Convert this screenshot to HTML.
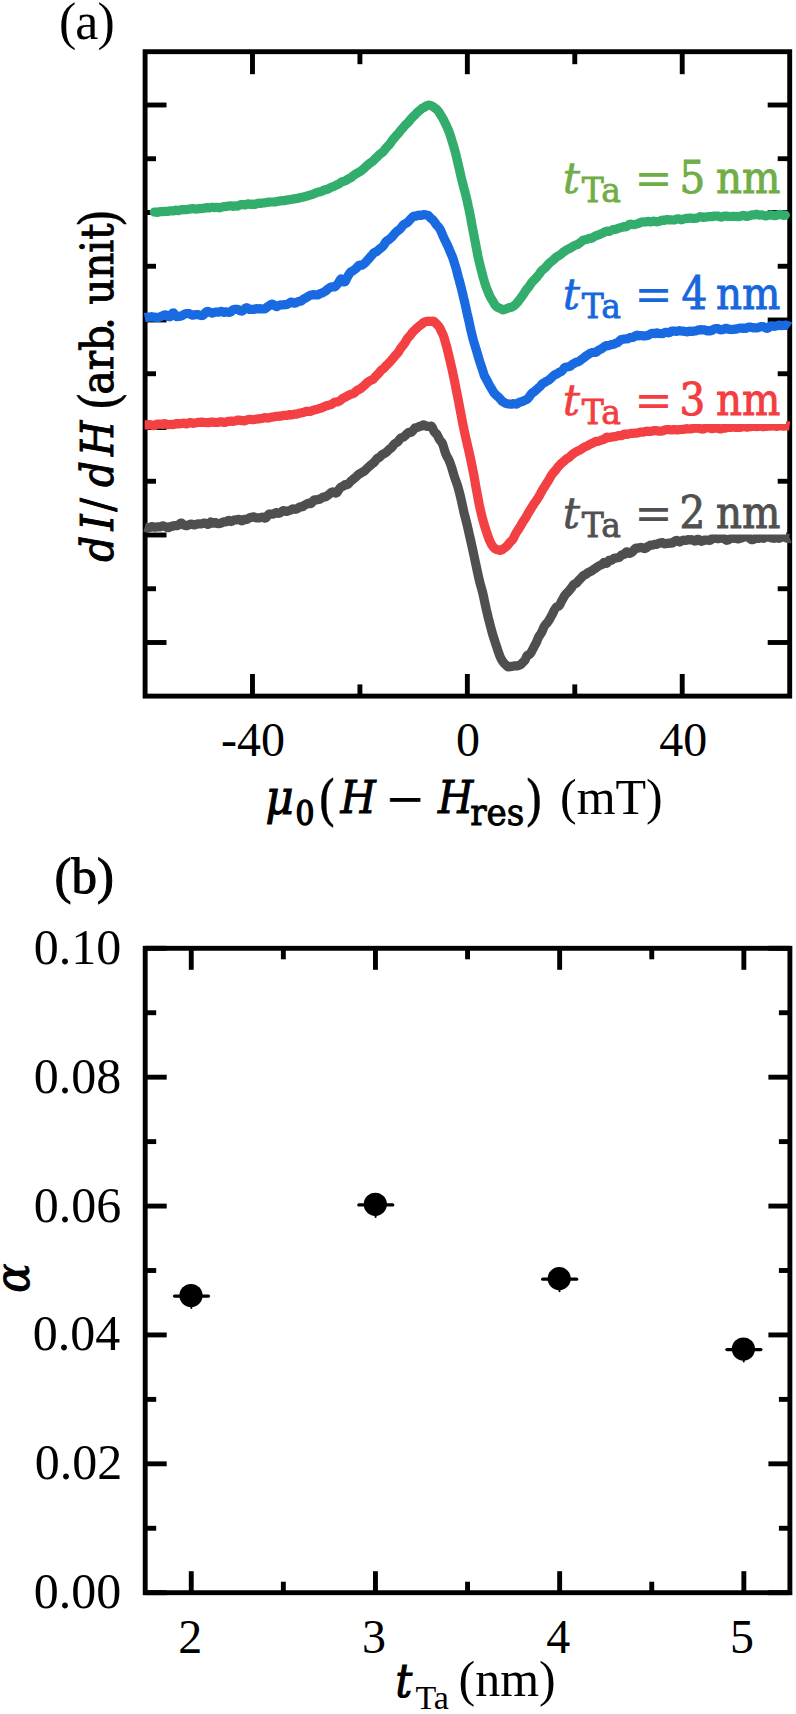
<!DOCTYPE html>
<html><head><meta charset="utf-8"><title>FMR spectra and damping</title>
<style>html,body{margin:0;padding:0;background:#fff;}svg{display:block;}</style></head>
<body><svg width="796" height="1714" viewBox="0 0 796 1714">
<rect width="796" height="1714" fill="#fff"/>
<rect x="145.1" y="51.7" width="644.60" height="644.40" fill="none" stroke="#000" stroke-width="4.9"/><line x1="145.10" y1="105.00" x2="166.50" y2="105.00" stroke="#000" stroke-width="4.9"/><line x1="789.70" y1="105.00" x2="767.70" y2="105.00" stroke="#000" stroke-width="4.9"/><line x1="145.10" y1="212.50" x2="166.50" y2="212.50" stroke="#000" stroke-width="4.9"/><line x1="789.70" y1="212.50" x2="767.70" y2="212.50" stroke="#000" stroke-width="4.9"/><line x1="145.10" y1="320.00" x2="166.50" y2="320.00" stroke="#000" stroke-width="4.9"/><line x1="789.70" y1="320.00" x2="767.70" y2="320.00" stroke="#000" stroke-width="4.9"/><line x1="145.10" y1="427.50" x2="166.50" y2="427.50" stroke="#000" stroke-width="4.9"/><line x1="789.70" y1="427.50" x2="767.70" y2="427.50" stroke="#000" stroke-width="4.9"/><line x1="145.10" y1="535.00" x2="166.50" y2="535.00" stroke="#000" stroke-width="4.9"/><line x1="789.70" y1="535.00" x2="767.70" y2="535.00" stroke="#000" stroke-width="4.9"/><line x1="145.10" y1="642.50" x2="166.50" y2="642.50" stroke="#000" stroke-width="4.9"/><line x1="789.70" y1="642.50" x2="767.70" y2="642.50" stroke="#000" stroke-width="4.9"/><line x1="145.10" y1="158.75" x2="156.00" y2="158.75" stroke="#000" stroke-width="4.9"/><line x1="789.70" y1="158.75" x2="777.70" y2="158.75" stroke="#000" stroke-width="4.9"/><line x1="145.10" y1="266.25" x2="156.00" y2="266.25" stroke="#000" stroke-width="4.9"/><line x1="789.70" y1="266.25" x2="777.70" y2="266.25" stroke="#000" stroke-width="4.9"/><line x1="145.10" y1="373.75" x2="156.00" y2="373.75" stroke="#000" stroke-width="4.9"/><line x1="789.70" y1="373.75" x2="777.70" y2="373.75" stroke="#000" stroke-width="4.9"/><line x1="145.10" y1="481.25" x2="156.00" y2="481.25" stroke="#000" stroke-width="4.9"/><line x1="789.70" y1="481.25" x2="777.70" y2="481.25" stroke="#000" stroke-width="4.9"/><line x1="145.10" y1="588.75" x2="156.00" y2="588.75" stroke="#000" stroke-width="4.9"/><line x1="789.70" y1="588.75" x2="777.70" y2="588.75" stroke="#000" stroke-width="4.9"/><line x1="252.48" y1="696.10" x2="252.48" y2="674.00" stroke="#000" stroke-width="4.9"/><line x1="252.48" y1="51.70" x2="252.48" y2="74.20" stroke="#000" stroke-width="4.9"/><line x1="467.35" y1="696.10" x2="467.35" y2="674.00" stroke="#000" stroke-width="4.9"/><line x1="467.35" y1="51.70" x2="467.35" y2="74.20" stroke="#000" stroke-width="4.9"/><line x1="682.22" y1="696.10" x2="682.22" y2="674.00" stroke="#000" stroke-width="4.9"/><line x1="682.22" y1="51.70" x2="682.22" y2="74.20" stroke="#000" stroke-width="4.9"/><line x1="359.92" y1="696.10" x2="359.92" y2="684.40" stroke="#000" stroke-width="4.9"/><line x1="359.92" y1="51.70" x2="359.92" y2="64.20" stroke="#000" stroke-width="4.9"/><line x1="574.78" y1="696.10" x2="574.78" y2="684.40" stroke="#000" stroke-width="4.9"/><line x1="574.78" y1="51.70" x2="574.78" y2="64.20" stroke="#000" stroke-width="4.9"/>
<polyline points="154.3,212.0 155.3,212.1 156.3,212.2 157.3,212.3 158.3,212.2 159.3,211.9 160.3,211.5 161.3,211.5 162.3,211.6 163.3,211.6 164.3,211.4 165.3,211.3 166.3,211.4 167.3,211.4 168.3,211.3 169.3,211.1 170.3,210.9 171.3,210.8 172.3,210.8 173.3,210.9 174.3,210.7 175.3,210.2 176.3,210.0 177.3,210.5 178.3,210.7 179.3,210.3 180.3,209.9 181.3,209.8 182.3,209.7 183.3,209.6 184.3,209.7 185.3,209.7 186.3,209.7 187.3,209.5 188.3,209.3 189.3,209.1 190.2,208.9 191.2,208.8 192.2,208.7 193.2,208.7 194.2,208.8 195.2,209.0 196.2,209.1 197.2,208.9 198.2,208.8 199.2,208.6 200.2,208.6 201.2,208.5 202.2,208.4 203.2,208.3 204.2,208.2 205.2,207.9 206.2,207.7 207.2,207.7 208.2,207.9 209.2,208.0 210.2,207.7 211.2,207.4 212.2,207.2 213.2,207.4 214.2,207.6 215.2,207.5 216.2,207.3 217.2,207.4 218.2,207.6 219.2,207.8 220.2,207.7 221.2,207.3 222.2,206.9 223.2,206.7 224.2,206.7 225.2,206.6 226.2,206.5 227.2,206.3 228.2,206.1 229.2,206.0 230.2,205.9 231.2,205.9 232.2,206.2 233.2,206.3 234.2,206.2 235.2,205.9 236.2,206.0 237.2,206.1 238.2,205.8 239.2,205.2 240.2,204.8 241.2,204.7 242.2,204.6 243.2,204.7 244.2,204.9 245.2,204.9 246.2,204.6 247.2,204.0 248.2,203.9 249.2,204.0 250.2,204.3 251.2,204.3 252.2,204.2 253.2,204.3 254.2,204.5 255.2,204.4 256.2,203.9 257.2,203.5 258.2,203.3 259.2,203.2 260.2,203.3 261.2,203.3 262.2,203.1 263.2,203.0 264.2,202.9 265.2,202.7 266.2,202.5 267.2,202.4 268.2,202.2 269.2,202.1 270.2,202.0 271.2,202.0 272.2,202.0 273.2,202.0 274.2,202.0 275.2,201.9 276.2,201.7 277.2,201.4 278.2,201.2 279.2,201.0 280.2,200.9 281.2,200.8 282.2,200.7 283.2,200.6 284.2,200.7 285.2,200.5 286.2,200.1 287.2,199.9 288.2,199.9 289.2,199.8 290.2,199.6 291.2,199.4 292.2,199.2 293.2,198.9 294.2,198.9 295.2,198.8 296.2,198.5 297.2,198.4 298.2,198.3 299.2,197.9 300.2,197.5 301.2,197.4 302.2,197.3 303.2,197.1 304.2,196.8 305.2,196.5 306.2,196.2 307.2,196.0 308.2,195.7 309.2,195.3 310.2,195.0 311.1,194.8 312.1,194.6 313.1,194.2 314.1,193.7 315.1,193.3 316.1,192.8 317.1,192.4 318.1,192.2 319.0,191.9 320.0,191.8 321.0,191.6 322.0,191.2 323.0,190.7 324.0,190.2 324.9,189.8 325.9,189.6 326.9,189.5 327.9,189.1 328.9,188.5 329.8,188.1 330.8,187.5 331.8,187.0 332.8,186.8 333.7,186.5 334.7,186.0 335.7,185.4 336.7,184.9 337.6,184.4 338.6,184.0 339.6,183.4 340.6,182.7 341.6,182.0 342.5,181.6 343.5,181.4 344.5,181.1 345.5,180.7 346.5,180.2 347.4,179.5 348.4,178.8 349.4,178.3 350.4,177.9 351.4,177.4 352.3,176.5 353.3,175.6 354.3,174.9 355.3,174.2 356.3,173.6 357.3,173.1 358.3,172.6 359.2,172.1 360.2,171.4 361.2,170.7 362.2,170.0 363.2,169.2 364.2,168.3 365.2,167.3 366.2,166.3 367.3,165.4 368.3,164.6 369.3,163.7 370.3,162.9 371.3,162.2 372.3,161.6 373.4,160.6 374.4,159.5 375.4,158.5 376.5,157.5 377.5,156.6 378.5,155.5 379.5,154.5 380.6,153.7 381.6,152.9 382.6,152.2 383.6,151.2 384.6,149.9 385.6,148.6 386.7,147.3 387.7,146.3 388.7,145.3 389.7,144.2 390.7,142.8 391.7,141.2 392.7,139.8 393.7,138.7 394.7,137.5 395.8,136.2 396.8,135.0 397.8,134.0 398.9,132.8 399.9,131.4 401.0,130.0 402.1,128.8 403.2,127.7 404.2,126.3 405.3,125.1 406.4,124.0 407.5,123.1 408.6,121.9 409.6,120.6 410.7,119.3 411.8,118.0 412.8,116.9 413.9,115.9 414.9,114.9 415.9,113.9 417.0,112.7 418.0,111.7 419.0,111.0 420.0,110.2 421.0,109.3 421.9,108.4 422.9,107.9 423.8,107.6 424.8,107.0 425.7,106.2 426.6,105.7 427.5,105.5 428.3,105.1 429.2,105.1 430.1,105.4 430.9,105.7 431.8,106.0 432.7,106.4 433.6,107.0 434.5,107.8 435.5,108.5 436.4,109.2 437.4,110.1 438.5,111.4 439.5,113.0 440.6,114.8 441.7,116.6 442.8,118.4 444.0,120.7 445.1,123.0 446.3,125.4 447.4,127.9 448.6,130.6 449.7,133.6 450.8,137.0 451.9,140.6 453.0,144.2 454.1,147.9 455.1,151.6 456.2,155.7 457.2,160.2 458.3,164.6 459.3,169.0 460.3,173.6 461.4,178.3 462.6,183.0 463.7,187.4 464.9,191.7 466.0,196.2 467.2,201.1 468.2,206.0 469.3,210.8 470.3,215.8 471.2,220.9 472.1,225.8 473.0,230.4 473.9,235.0 474.7,239.5 475.6,243.8 476.4,248.1 477.2,252.4 478.0,256.5 478.9,260.5 479.8,264.3 480.7,267.9 481.6,271.4 482.5,274.8 483.4,278.2 484.3,281.3 485.2,284.1 486.1,286.8 487.0,289.2 487.9,291.3 488.7,293.5 489.6,295.5 490.5,297.3 491.4,298.8 492.3,300.3 493.3,301.9 494.2,303.6 495.2,305.2 496.3,306.4 497.4,307.2 498.5,307.7 499.6,308.1 500.7,308.7 501.9,309.4 503.1,309.8 504.2,309.6 505.4,309.1 506.5,308.7 507.6,308.2 508.8,307.8 509.8,307.6 510.9,307.4 512.0,307.0 513.0,306.4 514.0,305.8 515.0,305.0 516.0,304.0 516.9,303.0 517.9,301.9 518.8,300.6 519.7,299.4 520.6,298.3 521.4,297.1 522.3,295.9 523.1,294.8 524.0,293.5 524.8,292.1 525.6,290.8 526.5,289.6 527.3,288.6 528.2,287.6 529.1,286.4 529.9,285.2 530.8,283.9 531.7,282.5 532.7,281.4 533.6,280.5 534.5,279.6 535.5,278.6 536.5,277.6 537.4,276.3 538.4,275.1 539.4,273.9 540.4,272.4 541.4,271.0 542.4,269.9 543.4,269.2 544.4,268.5 545.5,267.4 546.5,266.3 547.5,265.2 548.5,264.0 549.6,262.9 550.6,262.1 551.6,261.3 552.7,260.5 553.7,259.7 554.7,258.5 555.8,257.5 556.8,256.8 557.8,256.2 558.9,255.6 559.9,254.9 561.0,254.2 562.0,253.2 563.1,252.3 564.1,251.6 565.2,251.0 566.2,250.2 567.3,249.4 568.3,249.0 569.4,248.6 570.4,248.1 571.5,247.3 572.5,246.7 573.5,246.1 574.6,245.5 575.6,245.0 576.7,244.8 577.7,244.4 578.7,243.6 579.8,242.9 580.8,242.1 581.9,241.2 582.9,240.3 583.9,239.9 584.9,239.7 586.0,239.6 587.0,239.3 588.0,238.9 589.0,238.4 590.1,238.4 591.1,238.3 592.1,238.0 593.1,237.4 594.1,236.7 595.1,236.1 596.1,235.6 597.1,235.3 598.2,235.0 599.2,234.7 600.2,234.1 601.2,233.6 602.2,233.3 603.2,232.9 604.2,232.3 605.2,231.7 606.2,231.3 607.2,231.2 608.2,231.4 609.2,231.4 610.2,231.0 611.2,230.5 612.2,230.0 613.2,229.6 614.2,229.4 615.2,229.3 616.2,229.2 617.2,228.8 618.2,228.3 619.2,227.9 620.2,227.8 621.2,227.6 622.2,227.1 623.2,226.7 624.2,226.7 625.2,226.9 626.2,226.7 627.2,226.2 628.2,225.4 629.2,224.6 630.2,224.2 631.2,224.3 632.2,224.5 633.2,224.6 634.2,224.6 635.2,224.4 636.2,224.1 637.2,223.8 638.2,223.6 639.2,223.2 640.2,222.7 641.2,222.2 642.2,222.1 643.2,222.0 644.2,221.8 645.2,221.8 646.2,221.8 647.2,221.5 648.2,221.4 649.2,221.5 650.2,221.8 651.2,221.9 652.3,221.6 653.3,221.2 654.3,221.2 655.3,221.6 656.3,221.8 657.3,221.7 658.3,221.5 659.3,221.3 660.3,220.9 661.3,220.4 662.3,220.1 663.3,220.3 664.3,220.4 665.3,220.1 666.3,219.7 667.3,219.6 668.3,219.8 669.3,219.9 670.3,219.9 671.3,219.9 672.3,220.0 673.3,220.0 674.3,220.0 675.3,219.7 676.3,219.2 677.3,218.8 678.3,218.8 679.3,219.0 680.3,219.4 681.3,219.8 682.3,219.6 683.3,219.2 684.3,218.9 685.3,218.6 686.3,218.4 687.3,218.3 688.3,218.3 689.3,218.2 690.3,218.1 691.3,218.2 692.3,218.4 693.3,218.4 694.3,218.4 695.3,218.3 696.3,218.2 697.3,218.0 698.3,217.5 699.3,217.0 700.3,216.7 701.3,216.8 702.3,217.2 703.3,217.5 704.3,217.4 705.3,217.1 706.3,216.9 707.3,216.8 708.3,216.8 709.3,216.6 710.3,216.6 711.3,216.7 712.3,216.6 713.3,216.3 714.3,216.1 715.3,216.1 716.3,216.2 717.3,216.1 718.3,216.2 719.3,216.6 720.3,217.0 721.3,217.1 722.3,216.8 723.3,216.4 724.3,216.1 725.3,216.1 726.3,216.2 727.3,216.2 728.3,216.4 729.3,216.5 730.3,216.5 731.3,216.5 732.3,216.4 733.3,216.3 734.3,216.3 735.3,216.3 736.3,216.4 737.3,216.6 738.3,216.7 739.3,216.5 740.3,216.2 741.3,216.0 742.3,215.7 743.3,215.4 744.3,215.6 745.3,216.0 746.3,216.3 747.3,216.3 748.3,216.0 749.3,215.8 750.3,215.4 751.3,215.0 752.3,214.9 753.3,215.0 754.3,215.0 755.3,214.6 756.3,214.2 757.3,214.4 758.3,214.8 759.3,215.1 760.3,215.0 761.3,214.8 762.3,215.0 763.3,215.3 764.3,215.6 765.3,215.9 766.3,215.9 767.3,215.6 768.3,215.2 769.3,215.0 770.3,214.9 771.3,215.0 772.3,215.2 773.3,215.5 774.3,215.6 775.3,215.6 776.3,215.4 777.3,215.1 778.3,214.7 779.3,214.5 780.3,214.4 781.3,214.7 782.3,215.1 783.3,215.3 784.3,215.3 785.3,215.0" fill="none" stroke="#32ad6c" stroke-width="9.2" stroke-linejoin="round" stroke-linecap="round"/><polyline points="144.7,317.5 145.7,317.3 146.7,317.3 147.7,317.2 148.7,317.2 149.7,317.1 150.7,316.8 151.7,316.7 152.7,316.9 153.7,317.0 154.7,317.2 155.7,317.3 156.7,317.4 157.7,317.4 158.7,317.4 159.7,317.0 160.7,316.5 161.7,316.2 162.7,315.8 163.7,315.2 164.7,314.9 165.7,314.9 166.7,315.4 167.7,316.1 168.7,316.6 169.7,316.8 170.6,316.2 171.6,314.7 172.6,313.1 173.6,312.9 174.6,314.3 175.6,315.9 176.6,316.7 177.6,316.6 178.6,316.3 179.6,316.3 180.6,316.2 181.7,315.8 182.7,315.2 183.7,314.5 184.7,314.0 185.7,313.8 186.7,313.6 187.7,313.5 188.7,313.5 189.7,313.8 190.7,314.4 191.7,315.0 192.7,315.2 193.7,315.0 194.7,314.8 195.7,314.6 196.7,314.6 197.7,314.6 198.7,314.8 199.7,315.1 200.7,315.4 201.7,315.6 202.7,315.4 203.7,314.6 204.7,313.5 205.7,312.4 206.7,311.6 207.7,311.3 208.7,311.7 209.7,312.2 210.7,312.7 211.7,313.1 212.7,313.1 213.7,312.7 214.7,312.3 215.7,312.2 216.7,312.2 217.7,312.1 218.7,312.1 219.7,311.8 220.7,311.4 221.7,311.4 222.7,311.9 223.6,312.3 224.6,312.3 225.6,311.9 226.6,311.8 227.6,312.1 228.6,312.4 229.6,312.5 230.6,312.0 231.6,311.1 232.6,310.1 233.6,309.5 234.6,309.4 235.6,309.5 236.6,309.3 237.6,309.3 238.6,309.9 239.6,310.6 240.6,310.9 241.6,311.1 242.6,310.8 243.6,309.9 244.6,308.8 245.6,307.9 246.6,307.7 247.6,308.1 248.6,308.9 249.6,309.5 250.6,309.4 251.6,309.3 252.6,309.5 253.6,309.5 254.6,309.2 255.6,308.8 256.6,308.7 257.6,308.9 258.6,308.9 259.6,308.7 260.6,308.8 261.6,309.0 262.6,309.0 263.6,308.9 264.6,308.9 265.6,308.5 266.6,307.5 267.6,306.7 268.6,306.2 269.6,305.5 270.6,304.6 271.7,304.1 272.7,304.3 273.7,304.7 274.7,305.4 275.7,306.3 276.7,306.6 277.7,306.1 278.8,305.5 279.8,305.1 280.8,304.9 281.8,305.0 282.8,305.0 283.8,304.7 284.9,304.5 285.9,304.6 286.9,304.5 287.9,304.1 288.9,303.5 289.9,302.7 290.9,302.0 291.9,302.0 293.0,302.6 294.0,303.1 295.0,303.2 296.0,302.9 297.0,302.3 298.0,301.7 299.0,301.3 300.0,301.2 300.9,301.1 301.9,300.6 302.9,299.6 303.9,298.8 304.9,298.3 305.9,297.8 306.9,297.3 307.9,296.6 308.8,296.0 309.8,295.5 310.8,295.2 311.8,294.9 312.8,294.7 313.7,294.7 314.7,294.8 315.7,294.9 316.7,295.0 317.7,295.0 318.6,294.6 319.6,293.9 320.6,293.4 321.6,293.1 322.5,292.8 323.5,292.2 324.5,291.6 325.5,291.1 326.5,290.3 327.4,289.3 328.4,288.5 329.4,288.0 330.4,287.3 331.4,286.9 332.3,286.8 333.3,286.9 334.3,286.9 335.3,286.5 336.2,285.6 337.2,284.4 338.2,283.2 339.2,281.6 340.1,280.0 341.1,279.0 342.1,279.3 343.1,280.7 344.0,281.9 345.0,281.7 346.0,280.1 346.9,278.0 347.9,276.2 348.8,274.6 349.8,273.1 350.7,272.0 351.7,271.4 352.6,271.0 353.6,270.4 354.5,269.6 355.4,268.9 356.4,268.1 357.3,267.1 358.2,266.0 359.2,265.2 360.1,265.1 361.1,265.3 362.0,265.2 363.0,264.5 364.0,263.8 365.0,263.0 366.0,261.9 367.0,260.7 368.0,259.6 369.0,258.5 370.0,257.3 371.0,256.2 372.1,255.0 373.1,253.7 374.1,252.6 375.2,252.1 376.2,251.8 377.3,251.1 378.3,250.1 379.4,249.1 380.4,248.3 381.5,247.6 382.5,246.7 383.6,245.5 384.6,243.8 385.7,242.0 386.8,240.9 387.8,240.3 388.9,239.6 390.0,238.7 391.0,237.8 392.1,236.8 393.2,235.5 394.3,234.1 395.4,232.9 396.4,231.8 397.5,230.8 398.6,230.2 399.7,229.4 400.7,228.2 401.8,226.9 402.8,225.6 403.9,224.5 404.9,223.8 405.9,223.3 406.9,222.8 407.9,222.0 408.9,221.1 409.9,219.9 410.9,218.7 411.9,217.7 412.9,216.7 413.8,216.2 414.8,216.2 415.8,216.2 416.8,215.8 417.7,215.3 418.7,215.2 419.7,215.4 420.6,215.5 421.6,215.3 422.6,214.9 423.6,214.6 424.5,214.6 425.5,214.9 426.5,215.0 427.5,215.2 428.5,215.7 429.5,216.9 430.5,218.0 431.4,218.7 432.4,219.4 433.4,220.5 434.5,221.9 435.5,223.5 436.5,224.9 437.5,225.9 438.5,227.0 439.5,228.4 440.6,230.3 441.6,232.6 442.7,235.3 443.8,237.7 444.9,240.1 446.1,242.6 447.3,245.1 448.5,247.5 449.6,250.3 450.8,253.1 452.0,255.8 453.1,258.9 454.2,262.4 455.3,265.8 456.3,269.2 457.3,273.1 458.3,277.0 459.3,280.5 460.2,284.0 461.1,287.4 462.0,291.0 462.9,294.7 463.7,298.4 464.6,301.8 465.4,305.6 466.3,309.5 467.1,313.3 468.0,317.1 468.9,320.9 469.7,324.8 470.6,328.9 471.5,332.8 472.5,336.8 473.4,340.5 474.4,343.7 475.3,346.7 476.3,349.8 477.2,353.1 478.2,356.4 479.1,359.5 480.0,362.5 480.9,365.1 481.7,367.5 482.6,370.1 483.5,373.0 484.4,375.7 485.4,377.7 486.3,379.2 487.3,381.0 488.3,383.0 489.3,385.1 490.4,386.9 491.4,388.5 492.5,390.3 493.5,392.2 494.6,393.6 495.6,394.6 496.7,395.5 497.7,396.5 498.8,397.4 499.8,398.5 500.9,399.8 501.9,401.0 503.0,401.8 504.1,402.4 505.1,403.1 506.2,403.5 507.3,403.7 508.4,403.9 509.4,404.0 510.5,404.2 511.6,404.1 512.7,403.7 513.7,403.7 514.8,403.9 515.8,404.1 516.9,403.9 517.9,403.2 519.0,402.5 520.0,402.1 521.0,401.9 522.0,401.6 523.0,401.1 524.0,400.6 525.0,400.3 525.9,399.8 526.9,399.3 527.9,398.5 528.8,397.4 529.8,396.1 530.7,394.7 531.6,393.6 532.5,392.8 533.5,392.2 534.4,391.6 535.3,390.7 536.2,389.8 537.1,389.1 538.1,388.2 539.0,387.4 539.9,386.6 540.9,385.5 541.8,384.3 542.8,383.6 543.7,383.1 544.7,382.4 545.7,381.7 546.7,381.2 547.7,380.7 548.7,380.1 549.7,379.3 550.7,378.4 551.7,377.4 552.7,376.4 553.8,375.4 554.8,374.7 555.8,374.3 556.9,374.0 557.9,373.3 558.9,372.5 560.0,372.0 561.0,371.7 562.0,370.9 563.1,369.6 564.1,368.2 565.1,367.4 566.2,367.1 567.2,366.9 568.2,366.7 569.3,366.7 570.3,366.2 571.3,365.2 572.4,364.3 573.4,363.8 574.4,363.2 575.4,362.6 576.4,362.1 577.4,361.9 578.4,361.7 579.4,361.2 580.4,360.3 581.4,359.4 582.4,358.7 583.4,358.1 584.4,357.4 585.4,356.5 586.4,355.7 587.4,355.1 588.4,354.4 589.4,353.7 590.4,353.1 591.4,352.8 592.4,352.6 593.4,352.3 594.4,352.3 595.4,352.4 596.3,352.1 597.3,351.3 598.3,350.4 599.3,349.8 600.3,349.4 601.3,348.9 602.3,348.2 603.3,347.5 604.2,346.8 605.2,346.1 606.2,345.6 607.2,345.5 608.2,345.7 609.2,345.6 610.1,345.1 611.1,344.6 612.1,344.5 613.1,344.4 614.1,344.1 615.0,343.5 616.0,343.1 617.0,342.8 618.0,342.3 619.0,341.4 620.0,340.5 621.0,339.7 622.0,339.4 623.0,339.2 624.0,339.1 625.0,339.0 626.0,338.9 627.0,338.9 628.0,338.7 629.0,338.2 630.0,337.6 631.0,337.4 632.0,337.5 633.0,337.4 634.1,336.8 635.1,336.0 636.1,335.4 637.1,335.2 638.2,335.5 639.2,335.8 640.2,335.6 641.2,335.6 642.3,335.8 643.3,335.8 644.3,335.9 645.4,335.9 646.4,335.6 647.4,335.5 648.4,335.3 649.4,334.6 650.4,333.9 651.4,333.5 652.5,333.3 653.5,333.4 654.5,333.6 655.5,333.3 656.5,332.8 657.5,333.0 658.5,333.4 659.5,333.6 660.5,333.5 661.5,333.5 662.5,333.6 663.5,333.3 664.5,332.7 665.5,332.3 666.5,332.4 667.5,332.6 668.5,332.8 669.5,332.6 670.5,331.8 671.5,331.2 672.5,331.2 673.5,331.1 674.6,331.0 675.6,331.2 676.6,331.4 677.6,331.1 678.6,330.8 679.6,330.7 680.6,330.9 681.6,331.1 682.6,331.2 683.7,331.2 684.7,331.4 685.7,331.6 686.7,331.8 687.7,331.8 688.7,331.4 689.7,331.1 690.7,331.3 691.7,331.4 692.7,331.3 693.8,331.1 694.8,331.0 695.8,330.9 696.8,330.6 697.8,330.1 698.8,329.9 699.8,329.7 700.8,329.7 701.8,329.9 702.8,329.9 703.8,329.8 704.8,329.8 705.8,330.3 706.8,330.9 707.7,330.9 708.7,330.5 709.7,330.5 710.7,330.8 711.7,330.6 712.7,330.0 713.7,329.2 714.7,328.8 715.7,328.7 716.7,328.7 717.7,328.5 718.7,328.9 719.7,329.5 720.7,329.8 721.7,329.7 722.7,329.6 723.7,329.3 724.7,328.7 725.7,328.3 726.7,328.4 727.7,328.9 728.7,329.3 729.7,329.3 730.7,329.4 731.7,329.6 732.7,329.4 733.7,329.3 734.7,329.2 735.7,329.1 736.7,329.0 737.7,328.7 738.7,328.4 739.7,328.1 740.7,328.1 741.7,328.2 742.7,328.3 743.7,328.2 744.7,328.3 745.7,328.4 746.7,328.1 747.7,327.5 748.7,327.2 749.7,327.1 750.7,327.2 751.7,327.6 752.7,327.8 753.7,327.7 754.7,327.8 755.7,328.0 756.7,328.0 757.7,327.8 758.7,327.4 759.7,327.0 760.7,326.7 761.7,326.5 762.7,326.5 763.7,326.8 764.7,327.4 765.7,327.9 766.7,328.3 767.7,328.3 768.7,327.6 769.7,326.5 770.7,325.8 771.7,325.8 772.7,326.0 773.7,326.2 774.7,326.3 775.7,326.1 776.7,325.8 777.7,325.5 778.7,325.2 779.7,325.2 780.7,325.5 781.7,325.6 782.7,325.5 783.7,325.4 784.7,325.2 785.7,325.1 786.7,325.3 787.7,325.6 788.7,325.9 789.7,326.6" fill="none" stroke="#1969e1" stroke-width="9.2" stroke-linejoin="round" stroke-linecap="butt"/><polyline points="144.6,424.9 145.6,424.9 146.6,424.9 147.6,424.8 148.6,424.7 149.6,424.7 150.6,424.8 151.6,425.0 152.6,425.3 153.6,425.6 154.6,425.5 155.6,424.9 156.6,424.3 157.6,424.1 158.6,424.1 159.6,424.1 160.6,424.1 161.6,424.3 162.6,424.3 163.6,424.0 164.6,423.7 165.6,423.8 166.6,424.2 167.6,424.6 168.6,424.7 169.6,424.5 170.6,424.4 171.6,424.5 172.6,424.6 173.6,424.5 174.6,424.2 175.6,423.8 176.6,423.6 177.6,423.7 178.6,424.0 179.6,423.9 180.6,423.6 181.6,423.5 182.6,423.4 183.6,423.2 184.6,423.3 185.6,423.7 186.6,423.9 187.6,423.5 188.6,422.9 189.6,422.6 190.6,422.7 191.6,423.1 192.6,423.3 193.6,423.2 194.6,423.1 195.6,422.9 196.6,422.7 197.6,422.4 198.6,422.4 199.6,422.4 200.6,422.3 201.6,422.2 202.6,422.2 203.6,422.4 204.6,422.5 205.6,422.5 206.6,422.5 207.6,422.7 208.6,422.7 209.6,422.5 210.6,422.1 211.6,422.0 212.6,422.1 213.6,422.2 214.6,422.4 215.6,422.5 216.6,422.5 217.6,422.4 218.6,422.2 219.6,422.0 220.6,421.8 221.6,421.9 222.6,422.0 223.6,422.3 224.6,422.4 225.6,422.2 226.6,421.8 227.6,421.4 228.6,421.4 229.6,421.3 230.6,421.2 231.6,421.2 232.6,421.3 233.6,421.3 234.6,421.1 235.6,420.9 236.6,420.5 237.6,420.2 238.6,420.1 239.6,420.2 240.6,420.5 241.6,420.7 242.6,420.7 243.6,420.8 244.6,420.8 245.6,420.5 246.6,420.1 247.6,419.7 248.6,419.5 249.6,419.4 250.7,419.4 251.7,419.6 252.7,419.7 253.7,419.7 254.7,419.4 255.7,419.2 256.7,419.0 257.7,418.9 258.7,418.9 259.7,418.8 260.7,418.6 261.7,418.4 262.7,418.2 263.7,417.9 264.7,417.6 265.7,417.7 266.7,417.9 267.7,418.1 268.7,417.9 269.7,417.5 270.7,417.3 271.7,417.2 272.7,417.1 273.7,416.9 274.7,416.6 275.7,416.3 276.7,416.3 277.7,416.3 278.7,416.2 279.7,416.1 280.7,416.1 281.7,416.0 282.7,415.6 283.7,415.4 284.7,415.4 285.7,415.5 286.7,415.5 287.7,415.2 288.7,414.7 289.7,414.5 290.7,414.8 291.7,414.9 292.7,414.6 293.7,414.3 294.7,414.2 295.7,414.2 296.7,414.1 297.7,413.8 298.7,413.4 299.8,413.2 300.8,412.9 301.8,412.7 302.8,412.6 303.8,412.3 304.8,411.8 305.8,411.4 306.8,411.3 307.8,411.4 308.8,411.5 309.8,411.4 310.8,411.2 311.8,410.8 312.8,410.4 313.8,410.1 314.8,409.8 315.8,409.5 316.8,409.4 317.8,409.1 318.8,408.7 319.8,408.3 320.8,408.2 321.8,407.9 322.8,407.4 323.8,406.8 324.8,406.5 325.8,406.1 326.8,405.6 327.8,405.4 328.8,405.2 329.8,404.9 330.8,404.6 331.8,404.1 332.8,403.4 333.8,402.7 334.8,402.2 335.8,402.1 336.8,401.9 337.8,401.7 338.8,401.3 339.8,400.8 340.8,400.1 341.8,399.2 342.7,398.4 343.7,397.9 344.7,397.5 345.7,396.9 346.7,396.4 347.7,395.9 348.7,395.3 349.7,394.7 350.7,394.3 351.7,394.1 352.6,393.8 353.6,393.4 354.6,392.8 355.6,391.8 356.6,390.7 357.6,390.0 358.6,389.6 359.5,389.3 360.5,388.7 361.5,387.9 362.5,387.0 363.5,386.2 364.5,385.3 365.5,384.3 366.4,383.3 367.4,382.4 368.4,381.7 369.4,381.0 370.4,380.5 371.4,380.1 372.3,379.7 373.3,379.1 374.3,378.0 375.3,376.8 376.3,375.8 377.3,374.8 378.3,373.7 379.3,372.6 380.3,371.3 381.3,370.1 382.3,369.4 383.3,368.8 384.3,367.8 385.3,366.6 386.3,365.5 387.3,364.6 388.3,363.5 389.3,362.6 390.3,361.6 391.3,360.4 392.3,359.1 393.4,357.9 394.3,356.7 395.3,355.5 396.3,354.4 397.3,353.4 398.3,352.2 399.3,350.6 400.2,349.0 401.2,347.7 402.1,346.5 403.1,345.3 404.0,344.0 405.0,342.7 405.9,341.1 406.9,339.4 407.8,337.9 408.8,336.9 409.8,336.0 410.8,334.7 411.8,333.2 412.8,332.1 413.8,331.1 414.8,330.0 415.8,329.0 416.9,328.1 417.9,327.2 418.9,326.3 420.0,325.5 421.0,324.8 422.1,323.9 423.1,322.9 424.2,322.2 425.3,321.7 426.3,321.5 427.4,321.3 428.5,321.2 429.6,321.3 430.6,321.3 431.7,321.3 432.8,321.1 433.8,321.4 434.8,322.2 435.8,323.3 436.8,324.3 437.8,325.3 438.8,326.4 439.7,327.8 440.6,329.6 441.6,331.7 442.5,333.7 443.4,335.7 444.3,338.2 445.1,341.2 446.0,344.4 446.9,347.6 447.7,351.0 448.6,354.8 449.6,358.8 450.5,362.8 451.5,367.0 452.5,371.3 453.4,375.8 454.4,380.4 455.4,385.3 456.4,390.6 457.5,396.0 458.5,401.2 459.5,406.5 460.6,412.2 461.7,418.0 462.8,423.8 464.0,429.7 465.3,435.6 466.6,441.3 467.9,447.0 469.3,453.0 470.6,459.0 471.8,464.8 472.9,470.3 474.0,475.7 474.9,481.1 475.8,486.3 476.7,491.1 477.6,495.9 478.5,500.7 479.4,505.4 480.4,509.9 481.4,514.2 482.4,518.2 483.4,521.8 484.4,525.2 485.3,528.3 486.3,531.2 487.2,533.8 488.0,536.4 488.9,538.9 489.8,541.0 490.7,542.8 491.6,544.5 492.6,546.0 493.5,547.3 494.5,548.3 495.5,549.0 496.5,549.4 497.5,549.6 498.6,550.0 499.7,550.3 500.7,550.4 501.8,549.9 502.8,549.2 503.9,548.4 505.0,547.7 506.0,546.8 507.0,545.9 508.1,544.7 509.1,543.4 510.1,542.1 511.1,541.2 512.2,540.2 513.2,538.8 514.2,536.8 515.2,534.7 516.2,532.8 517.2,531.3 518.2,529.8 519.2,528.1 520.3,526.4 521.3,524.6 522.3,522.9 523.3,521.3 524.4,519.7 525.4,518.2 526.4,516.4 527.5,514.4 528.5,512.6 529.5,511.1 530.5,509.5 531.5,507.7 532.5,506.1 533.5,504.6 534.4,503.2 535.4,501.8 536.4,500.5 537.3,499.1 538.2,497.6 539.2,496.0 540.1,494.4 541.0,492.7 541.9,491.0 542.8,489.3 543.7,487.9 544.6,486.7 545.4,485.3 546.3,483.9 547.2,482.4 548.0,481.2 548.9,479.8 549.7,478.3 550.6,476.7 551.4,475.3 552.3,474.0 553.2,472.8 554.1,471.8 555.0,470.8 555.9,469.8 556.9,468.5 557.8,467.2 558.8,466.1 559.8,465.0 560.8,463.9 561.8,462.9 562.8,462.2 563.8,461.4 564.8,460.5 565.8,459.5 566.8,458.7 567.8,458.2 568.8,457.6 569.8,456.8 570.8,455.8 571.9,454.9 572.9,454.0 573.9,453.2 574.9,452.6 575.9,452.0 577.0,451.3 578.0,450.8 579.0,450.5 580.0,450.0 581.0,449.3 582.1,448.6 583.1,448.0 584.1,447.3 585.1,446.7 586.2,446.3 587.2,445.9 588.2,445.4 589.2,444.8 590.3,444.2 591.3,443.7 592.3,443.3 593.4,442.7 594.4,442.1 595.4,441.6 596.5,441.4 597.5,441.4 598.5,441.2 599.6,440.8 600.6,440.4 601.6,439.9 602.7,439.8 603.7,439.6 604.7,438.9 605.8,437.8 606.8,437.2 607.8,437.3 608.9,437.6 609.9,437.5 610.9,437.3 611.9,437.0 613.0,436.8 614.0,436.7 615.0,436.6 616.0,436.4 617.1,436.1 618.1,435.7 619.1,435.6 620.1,435.6 621.1,435.7 622.2,435.5 623.2,434.7 624.2,434.0 625.2,434.0 626.2,434.3 627.3,434.4 628.3,434.1 629.3,433.7 630.3,433.5 631.3,433.4 632.3,433.3 633.3,433.3 634.4,433.2 635.4,433.2 636.4,433.1 637.4,433.0 638.4,432.7 639.4,432.3 640.4,432.2 641.4,432.2 642.4,432.2 643.5,432.1 644.5,431.7 645.5,431.4 646.5,431.2 647.5,431.3 648.5,431.4 649.5,431.4 650.5,431.4 651.5,431.2 652.5,430.9 653.5,430.7 654.5,430.7 655.6,430.7 656.6,430.7 657.6,431.0 658.6,431.2 659.6,431.2 660.6,431.2 661.6,431.2 662.6,430.9 663.6,430.4 664.6,430.0 665.6,429.9 666.6,429.6 667.6,429.5 668.6,429.6 669.6,429.7 670.6,429.8 671.6,429.8 672.6,429.8 673.6,429.6 674.6,429.6 675.6,429.7 676.6,429.9 677.6,429.8 678.6,429.8 679.6,429.6 680.6,429.5 681.6,429.5 682.6,429.4 683.6,429.3 684.7,429.1 685.7,428.9 686.7,428.7 687.7,428.8 688.7,429.0 689.7,429.0 690.7,428.9 691.7,428.7 692.7,428.5 693.7,428.2 694.7,428.1 695.7,428.2 696.7,428.2 697.7,428.2 698.7,428.3 699.7,428.5 700.7,428.7 701.7,429.0 702.7,429.1 703.7,428.9 704.7,428.4 705.7,428.0 706.7,427.7 707.7,427.5 708.7,427.5 709.7,427.9 710.7,428.4 711.7,428.7 712.7,428.5 713.7,428.2 714.7,428.0 715.7,428.0 716.7,428.1 717.7,428.3 718.7,428.6 719.7,428.9 720.7,428.9 721.7,428.7 722.7,428.3 723.7,428.1 724.7,428.2 725.7,428.1 726.7,427.7 727.7,427.3 728.7,427.2 729.7,427.3 730.7,427.5 731.7,427.3 732.7,427.1 733.7,427.0 734.7,427.3 735.7,427.5 736.7,427.5 737.7,427.3 738.7,427.2 739.7,427.3 740.7,427.3 741.7,427.1 742.7,426.8 743.7,426.6 744.6,426.6 745.6,426.9 746.6,427.2 747.6,427.2 748.6,426.9 749.6,426.5 750.6,426.5 751.6,426.6 752.6,426.4 753.6,426.2 754.6,426.2 755.6,426.5 756.6,426.6 757.6,426.4 758.6,426.3 759.6,426.2 760.6,426.1 761.6,426.3 762.6,426.7 763.6,426.7 764.6,426.4 765.6,426.3 766.6,426.3 767.6,426.2 768.6,426.2 769.6,426.2 770.6,426.1 771.6,426.0 772.6,425.9 773.6,425.8 774.6,426.0 775.6,426.2 776.6,426.3 777.6,426.3 778.6,426.1 779.6,425.9 780.6,425.9 781.6,426.0 782.6,426.1 783.6,426.1 784.6,426.1 785.6,425.9 786.6,425.9 787.6,425.9 788.6,425.9 789.6,426.0" fill="none" stroke="#f34042" stroke-width="9.2" stroke-linejoin="round" stroke-linecap="butt"/><polyline points="144.7,527.2 145.7,527.5 146.7,527.9 147.7,528.0 148.7,527.8 149.7,527.4 150.7,527.0 151.7,526.6 152.7,526.7 153.7,527.1 154.7,527.2 155.7,527.2 156.7,527.0 157.7,526.9 158.7,526.9 159.7,527.0 160.7,526.6 161.7,526.1 162.7,525.8 163.7,526.0 164.7,526.5 165.7,526.7 166.7,527.1 167.7,527.7 168.7,527.6 169.7,526.8 170.7,526.4 171.7,526.5 172.7,526.3 173.7,525.7 174.7,525.5 175.7,525.7 176.7,525.7 177.7,525.5 178.7,524.9 179.7,523.9 180.7,523.1 181.8,523.2 182.8,524.2 183.8,525.1 184.8,525.4 185.8,525.7 186.8,525.7 187.8,525.3 188.8,524.8 189.8,524.4 190.8,524.1 191.8,524.2 192.8,524.6 193.8,524.9 194.8,524.8 195.8,524.5 196.8,524.2 197.8,523.9 198.8,523.9 199.8,524.0 200.8,524.0 201.8,523.8 202.8,523.6 203.8,523.2 204.8,523.1 205.8,523.5 206.8,524.0 207.8,524.4 208.8,524.1 209.8,522.9 210.8,521.9 211.8,522.3 212.8,523.2 213.8,523.1 214.8,522.6 215.8,522.7 216.8,523.4 217.8,523.7 218.8,523.6 219.8,523.5 220.8,523.3 221.8,522.7 222.8,522.0 223.8,521.9 224.8,521.9 225.8,521.8 226.9,521.5 227.9,520.7 228.9,520.4 229.9,521.2 230.9,521.6 231.9,521.2 232.9,520.6 233.9,520.1 234.9,519.9 235.9,519.9 236.9,519.8 237.9,519.4 238.9,519.3 239.9,519.7 240.9,520.5 241.9,520.8 242.9,520.3 243.9,519.5 244.9,519.3 245.9,519.6 246.9,519.5 247.9,518.8 248.9,518.0 249.9,517.5 250.9,517.4 251.9,517.3 252.9,516.8 253.9,516.8 254.9,517.4 255.9,517.9 256.9,517.9 257.9,517.9 258.9,517.8 259.9,517.8 260.9,517.6 261.9,517.2 262.9,517.2 263.9,517.6 264.9,518.1 265.9,517.8 266.9,516.7 267.9,515.2 268.9,514.2 269.9,513.9 270.9,514.1 271.9,514.1 272.9,514.1 273.9,513.8 274.9,513.2 275.9,512.6 276.9,512.6 277.9,513.2 278.9,513.3 279.9,512.9 280.9,512.4 281.8,511.6 282.8,510.7 283.8,510.5 284.8,510.9 285.8,511.3 286.8,511.4 287.8,511.1 288.8,510.6 289.8,510.3 290.8,510.0 291.8,509.4 292.8,508.9 293.7,508.9 294.7,509.1 295.7,509.3 296.7,509.1 297.7,508.4 298.7,507.6 299.7,506.9 300.7,506.7 301.6,506.8 302.6,506.7 303.6,506.0 304.6,505.2 305.6,504.7 306.6,504.2 307.5,503.5 308.5,503.0 309.5,503.3 310.5,503.7 311.5,503.3 312.5,502.0 313.4,500.7 314.4,499.9 315.4,499.9 316.4,499.9 317.4,499.7 318.3,499.4 319.3,499.3 320.3,499.0 321.3,498.3 322.3,497.5 323.2,497.0 324.2,496.9 325.2,496.9 326.2,496.6 327.2,495.7 328.2,495.0 329.1,494.3 330.1,493.4 331.1,492.5 332.1,492.0 333.1,491.9 334.1,492.4 335.0,493.0 336.0,493.1 337.0,492.5 338.0,491.1 339.0,489.5 339.9,488.2 340.9,487.2 341.9,486.6 342.9,486.3 343.8,485.6 344.8,484.8 345.8,484.6 346.8,484.8 347.7,484.4 348.7,483.4 349.7,482.4 350.6,481.3 351.6,480.4 352.6,479.7 353.5,478.9 354.5,478.1 355.5,477.4 356.4,476.6 357.4,475.6 358.3,474.7 359.3,473.9 360.2,473.5 361.2,472.9 362.2,472.2 363.1,471.8 364.1,471.3 365.0,470.4 366.0,469.4 366.9,468.6 367.9,467.6 368.9,466.7 369.8,465.9 370.8,465.1 371.8,464.2 372.8,463.3 373.8,462.7 374.8,461.6 375.8,460.1 376.8,458.9 377.8,458.1 378.8,457.7 379.8,457.1 380.8,456.1 381.8,454.9 382.9,454.1 383.9,453.8 384.9,453.2 386.0,452.5 387.0,451.7 388.1,450.6 389.1,449.4 390.2,448.7 391.2,448.1 392.3,446.8 393.4,445.2 394.5,443.9 395.6,443.1 396.7,442.6 397.8,441.8 398.9,440.4 400.0,438.8 401.1,437.9 402.2,437.5 403.3,437.0 404.4,436.3 405.5,435.4 406.6,434.2 407.7,433.1 408.8,432.3 409.8,432.3 410.9,432.4 411.9,431.7 413.0,430.5 414.0,429.1 415.0,427.9 416.1,427.6 417.1,427.6 418.1,427.2 419.0,426.6 420.0,426.2 421.0,426.2 421.9,425.8 422.8,425.0 423.8,424.8 424.7,425.3 425.5,425.9 426.4,426.2 427.3,426.5 428.1,426.5 429.0,426.4 429.9,426.3 430.7,426.1 431.6,426.3 432.4,427.6 433.3,429.8 434.2,431.7 435.1,432.8 436.0,433.4 436.9,434.4 437.8,436.1 438.7,438.0 439.6,439.7 440.6,441.0 441.6,442.1 442.6,443.8 443.6,447.0 444.7,450.8 445.8,454.0 446.9,456.3 448.1,458.3 449.2,460.7 450.4,463.8 451.6,467.4 452.8,471.3 454.0,475.3 455.2,479.0 456.4,482.3 457.6,485.7 458.7,489.7 459.8,494.0 460.9,498.4 461.9,503.0 463.0,507.9 464.0,512.7 465.1,516.8 466.1,520.8 467.2,525.2 468.3,530.1 469.4,535.0 470.6,540.1 471.8,545.4 472.9,550.5 474.0,555.6 475.1,560.9 476.2,565.9 477.2,570.7 478.3,575.9 479.4,580.8 480.5,584.9 481.6,588.7 482.7,592.8 483.7,597.3 484.6,601.7 485.5,605.8 486.3,609.5 487.2,613.2 488.1,617.1 489.1,620.9 490.0,624.5 490.9,627.9 491.8,631.2 492.7,634.5 493.6,637.3 494.4,639.7 495.2,642.4 496.0,644.8 496.7,646.9 497.4,649.0 498.2,651.4 499.0,653.7 499.8,655.9 500.6,657.7 501.5,659.5 502.5,661.1 503.5,662.5 504.5,663.6 505.6,664.6 506.7,665.9 507.9,666.8 509.1,666.8 510.4,666.6 511.6,666.4 512.9,666.2 514.1,665.9 515.4,665.8 516.6,665.9 517.8,665.8 518.9,665.4 520.1,665.0 521.2,664.1 522.3,662.9 523.4,661.8 524.4,660.9 525.5,659.2 526.5,656.8 527.5,655.2 528.5,654.8 529.5,654.5 530.4,653.5 531.4,651.8 532.3,650.1 533.2,648.4 534.1,646.6 534.9,645.1 535.7,643.7 536.6,642.0 537.4,639.9 538.2,637.9 539.0,636.3 539.8,635.2 540.6,634.0 541.4,632.6 542.3,631.0 543.1,628.9 544.0,626.8 544.9,625.3 545.8,624.2 546.7,623.3 547.6,622.3 548.5,621.1 549.4,619.5 550.4,617.8 551.3,616.0 552.2,614.4 553.1,612.6 554.0,610.7 555.0,609.0 555.9,607.7 556.8,606.8 557.8,606.4 558.7,606.1 559.7,605.0 560.6,603.1 561.6,601.0 562.6,599.3 563.5,597.6 564.5,595.9 565.5,594.5 566.5,593.4 567.5,592.5 568.5,591.5 569.5,590.2 570.5,588.9 571.5,587.7 572.5,586.1 573.5,584.7 574.5,584.0 575.5,583.7 576.6,583.0 577.6,581.9 578.6,580.5 579.7,579.4 580.7,578.5 581.8,577.3 582.8,576.1 583.9,575.2 584.9,574.8 586.0,574.4 587.0,573.5 588.1,572.5 589.1,572.0 590.2,571.6 591.2,571.1 592.3,570.5 593.4,569.6 594.4,568.9 595.5,568.3 596.5,567.5 597.6,566.7 598.6,566.1 599.7,565.5 600.7,565.0 601.8,564.6 602.8,563.5 603.9,562.4 604.9,562.6 605.9,563.4 607.0,563.2 608.0,561.7 609.0,560.4 610.1,560.2 611.1,560.3 612.1,559.8 613.1,558.9 614.1,558.3 615.2,558.1 616.2,557.9 617.2,557.7 618.2,557.7 619.2,557.4 620.2,556.4 621.2,555.2 622.2,554.6 623.2,554.7 624.2,554.4 625.2,553.1 626.2,551.9 627.2,551.9 628.2,552.8 629.2,553.4 630.2,553.2 631.2,552.6 632.2,552.1 633.2,551.1 634.2,549.6 635.2,548.5 636.2,548.1 637.2,548.2 638.2,548.1 639.2,547.8 640.2,547.5 641.2,547.4 642.2,547.7 643.2,548.2 644.2,548.5 645.2,548.6 646.2,547.9 647.2,546.9 648.3,546.3 649.3,545.8 650.3,545.2 651.3,545.1 652.3,545.1 653.3,544.8 654.3,544.4 655.4,544.3 656.4,544.3 657.4,544.0 658.4,543.5 659.4,543.2 660.4,542.9 661.5,542.6 662.5,542.7 663.5,543.3 664.5,543.8 665.5,543.7 666.5,543.5 667.5,543.3 668.5,543.3 669.6,543.0 670.6,542.9 671.6,543.1 672.6,543.0 673.6,542.2 674.6,541.2 675.6,540.6 676.6,540.3 677.6,540.7 678.6,541.6 679.6,542.0 680.6,541.6 681.7,540.8 682.7,540.3 683.7,540.2 684.7,540.4 685.7,540.5 686.7,540.1 687.7,539.7 688.7,539.7 689.7,539.9 690.7,539.9 691.7,539.7 692.7,539.9 693.7,540.5 694.7,541.1 695.7,540.9 696.7,540.1 697.7,539.2 698.7,539.3 699.7,540.3 700.7,541.2 701.7,541.3 702.7,540.9 703.7,540.3 704.7,540.1 705.7,540.1 706.7,540.0 707.7,540.0 708.7,540.2 709.7,540.4 710.7,540.1 711.7,539.2 712.7,538.1 713.7,537.5 714.7,537.6 715.7,538.1 716.7,538.5 717.7,538.7 718.7,538.6 719.7,538.0 720.7,537.8 721.7,538.1 722.7,538.4 723.7,538.3 724.7,538.8 725.7,539.8 726.7,540.3 727.7,540.1 728.7,539.6 729.7,538.9 730.7,538.6 731.7,538.5 732.7,538.3 733.7,538.1 734.7,538.2 735.7,538.5 736.7,538.6 737.7,538.9 738.7,538.9 739.7,538.4 740.7,538.0 741.7,538.0 742.7,537.6 743.7,537.1 744.7,536.5 745.7,535.9 746.7,536.1 747.7,536.8 748.7,537.6 749.7,538.4 750.7,539.1 751.7,539.7 752.7,539.7 753.7,539.3 754.7,538.7 755.7,538.2 756.7,537.8 757.7,538.1 758.7,538.5 759.7,538.1 760.7,537.4 761.7,537.4 762.7,538.1 763.7,538.4 764.7,537.8 765.7,536.7 766.7,536.2 767.7,536.4 768.7,536.8 769.7,537.3 770.7,537.7 771.7,537.9 772.7,538.1 773.7,538.3 774.7,538.2 775.7,537.8 776.7,537.7 777.7,538.1 778.7,538.3 779.7,538.0 780.7,537.4 781.7,537.0 782.7,537.0 783.7,537.0 784.7,537.2 785.7,537.7 786.7,538.1 787.7,538.3 788.7,538.6 789.7,538.1" fill="none" stroke="#4f4f4f" stroke-width="9.2" stroke-linejoin="round" stroke-linecap="butt"/>
<rect x="560" y="161.5" width="226" height="37.5" fill="#fff"/><rect x="560" y="277.6" width="226" height="37.4" fill="#fff"/><rect x="560" y="383.6" width="226" height="40.4" fill="#fff"/><rect x="560" y="497.0" width="226" height="37.5" fill="#fff"/>
<rect x="145.2" y="948.3" width="644.70" height="644.40" fill="none" stroke="#000" stroke-width="4.9"/><line x1="145.20" y1="1592.70" x2="166.70" y2="1592.70" stroke="#000" stroke-width="4.9"/><line x1="789.90" y1="1592.70" x2="768.40" y2="1592.70" stroke="#000" stroke-width="4.9"/><line x1="145.20" y1="1463.82" x2="166.70" y2="1463.82" stroke="#000" stroke-width="4.9"/><line x1="789.90" y1="1463.82" x2="768.40" y2="1463.82" stroke="#000" stroke-width="4.9"/><line x1="145.20" y1="1334.94" x2="166.70" y2="1334.94" stroke="#000" stroke-width="4.9"/><line x1="789.90" y1="1334.94" x2="768.40" y2="1334.94" stroke="#000" stroke-width="4.9"/><line x1="145.20" y1="1206.06" x2="166.70" y2="1206.06" stroke="#000" stroke-width="4.9"/><line x1="789.90" y1="1206.06" x2="768.40" y2="1206.06" stroke="#000" stroke-width="4.9"/><line x1="145.20" y1="1077.18" x2="166.70" y2="1077.18" stroke="#000" stroke-width="4.9"/><line x1="789.90" y1="1077.18" x2="768.40" y2="1077.18" stroke="#000" stroke-width="4.9"/><line x1="145.20" y1="948.30" x2="166.70" y2="948.30" stroke="#000" stroke-width="4.9"/><line x1="789.90" y1="948.30" x2="768.40" y2="948.30" stroke="#000" stroke-width="4.9"/><line x1="145.20" y1="1528.26" x2="156.20" y2="1528.26" stroke="#000" stroke-width="4.9"/><line x1="789.90" y1="1528.26" x2="778.90" y2="1528.26" stroke="#000" stroke-width="4.9"/><line x1="145.20" y1="1399.38" x2="156.20" y2="1399.38" stroke="#000" stroke-width="4.9"/><line x1="789.90" y1="1399.38" x2="778.90" y2="1399.38" stroke="#000" stroke-width="4.9"/><line x1="145.20" y1="1270.50" x2="156.20" y2="1270.50" stroke="#000" stroke-width="4.9"/><line x1="789.90" y1="1270.50" x2="778.90" y2="1270.50" stroke="#000" stroke-width="4.9"/><line x1="145.20" y1="1141.62" x2="156.20" y2="1141.62" stroke="#000" stroke-width="4.9"/><line x1="789.90" y1="1141.62" x2="778.90" y2="1141.62" stroke="#000" stroke-width="4.9"/><line x1="145.20" y1="1012.74" x2="156.20" y2="1012.74" stroke="#000" stroke-width="4.9"/><line x1="789.90" y1="1012.74" x2="778.90" y2="1012.74" stroke="#000" stroke-width="4.9"/><line x1="191.25" y1="1592.70" x2="191.25" y2="1571.20" stroke="#000" stroke-width="4.9"/><line x1="191.25" y1="948.30" x2="191.25" y2="969.80" stroke="#000" stroke-width="4.9"/><line x1="375.45" y1="1592.70" x2="375.45" y2="1571.20" stroke="#000" stroke-width="4.9"/><line x1="375.45" y1="948.30" x2="375.45" y2="969.80" stroke="#000" stroke-width="4.9"/><line x1="559.65" y1="1592.70" x2="559.65" y2="1571.20" stroke="#000" stroke-width="4.9"/><line x1="559.65" y1="948.30" x2="559.65" y2="969.80" stroke="#000" stroke-width="4.9"/><line x1="743.85" y1="1592.70" x2="743.85" y2="1571.20" stroke="#000" stroke-width="4.9"/><line x1="743.85" y1="948.30" x2="743.85" y2="969.80" stroke="#000" stroke-width="4.9"/><line x1="283.35" y1="1592.70" x2="283.35" y2="1581.70" stroke="#000" stroke-width="4.9"/><line x1="283.35" y1="948.30" x2="283.35" y2="959.30" stroke="#000" stroke-width="4.9"/><line x1="467.55" y1="1592.70" x2="467.55" y2="1581.70" stroke="#000" stroke-width="4.9"/><line x1="467.55" y1="948.30" x2="467.55" y2="959.30" stroke="#000" stroke-width="4.9"/><line x1="651.75" y1="1592.70" x2="651.75" y2="1581.70" stroke="#000" stroke-width="4.9"/><line x1="651.75" y1="948.30" x2="651.75" y2="959.30" stroke="#000" stroke-width="4.9"/>
<line x1="174.5" y1="1296.1" x2="208.5" y2="1296.1" stroke="#000" stroke-width="3.2" stroke-linecap="round"/><line x1="191.3" y1="1304.5" x2="191.3" y2="1308.1" stroke="#000" stroke-width="2" stroke-linecap="round"/><circle cx="191.0" cy="1295.5" r="11.6" fill="#000"/><line x1="358.8" y1="1204.9" x2="392.8" y2="1204.9" stroke="#000" stroke-width="3.2" stroke-linecap="round"/><line x1="375.6" y1="1213.3" x2="375.6" y2="1216.9" stroke="#000" stroke-width="2" stroke-linecap="round"/><circle cx="375.3" cy="1204.3" r="11.6" fill="#000"/><line x1="542.7" y1="1279.2" x2="576.7" y2="1279.2" stroke="#000" stroke-width="3.2" stroke-linecap="round"/><line x1="559.5" y1="1287.6" x2="559.5" y2="1291.2" stroke="#000" stroke-width="2" stroke-linecap="round"/><circle cx="559.2" cy="1278.6" r="11.6" fill="#000"/><line x1="726.9" y1="1349.6" x2="760.9" y2="1349.6" stroke="#000" stroke-width="3.2" stroke-linecap="round"/><line x1="743.7" y1="1358.0" x2="743.7" y2="1361.6" stroke="#000" stroke-width="2" stroke-linecap="round"/><circle cx="743.4" cy="1349.0" r="11.6" fill="#000"/>
<text letter-spacing="-1" x="59.0" y="38.7" font-family="'Liberation Serif', serif" font-size="52">(a)</text><text x="221.0" y="756.0" font-family="'Liberation Serif', serif" font-size="48">-40</text><text x="455.9" y="756.0" font-family="'Liberation Serif', serif" font-size="48">0</text><text x="659.2" y="756.0" font-family="'Liberation Serif', serif" font-size="48">40</text><text><tspan x="265.6" y="814.0" font-family="'DejaVu Serif Condensed', 'DejaVu Serif', serif" font-size="48" font-style="italic" stroke="#000" stroke-width="1.1">μ</tspan><tspan x="295.5" y="824.7" font-family="'DejaVu Serif Condensed', 'DejaVu Serif', serif" font-size="33" stroke="#000" stroke-width="1.4">0</tspan><tspan x="317.5" y="819.0" font-family="'DejaVu Serif Condensed', 'DejaVu Serif', serif" font-size="54" stroke="#000" stroke-width="0.3">(</tspan><tspan x="340.6" y="813.3" font-family="'DejaVu Serif Condensed', 'DejaVu Serif', serif" font-size="45" font-style="italic" stroke="#000" stroke-width="0.9">H </tspan><tspan x="385.0" y="815.3" font-family="'DejaVu Serif', serif" font-size="48" stroke="#000" stroke-width="0.3">− </tspan><tspan x="437.9" y="813.3" font-family="'DejaVu Serif Condensed', 'DejaVu Serif', serif" font-size="45" font-style="italic" stroke="#000" stroke-width="0.9">H</tspan><tspan x="470.2" y="824.6" font-family="'DejaVu Serif Condensed', 'DejaVu Serif', serif" font-size="38" stroke="#000" stroke-width="0.9">res</tspan><tspan x="524.5" y="819.0" font-family="'DejaVu Serif Condensed', 'DejaVu Serif', serif" font-size="54" stroke="#000" stroke-width="0.3">) </tspan><tspan x="560.0" y="814.0" font-family="'Liberation Serif', serif" font-size="50">(mT)</tspan></text><text transform="translate(113,561.6) rotate(-90)"><tspan x="-0.2" y="0.0" font-family="'DejaVu Serif Condensed', 'DejaVu Serif', serif" font-size="45" font-style="italic" stroke="#000" stroke-width="0.9">d</tspan><tspan x="31.0" y="0.0" font-family="'DejaVu Serif Condensed', 'DejaVu Serif', serif" font-size="45" font-style="italic" stroke="#000" stroke-width="0.9">I</tspan><tspan x="49.8" y="0.0" font-family="'DejaVu Serif Condensed', 'DejaVu Serif', serif" font-size="45" stroke="#000" stroke-width="0.9">/</tspan><tspan x="74.5" y="0.0" font-family="'DejaVu Serif Condensed', 'DejaVu Serif', serif" font-size="45" font-style="italic" stroke="#000" stroke-width="0.9">d</tspan><tspan x="105.6" y="0.0" font-family="'DejaVu Serif Condensed', 'DejaVu Serif', serif" font-size="45" font-style="italic" stroke="#000" stroke-width="0.9">H </tspan><tspan x="150.8" y="5.0" font-family="'DejaVu Serif Condensed', 'DejaVu Serif', serif" font-size="54" stroke="#000" stroke-width="0.3">(</tspan><tspan x="167.2" y="0.0" font-family="'DejaVu Serif Condensed', 'DejaVu Serif', serif" font-size="45" stroke="#000" stroke-width="0.9">arb</tspan><tspan x="231.5" y="0.0" font-family="'DejaVu Serif Condensed', 'DejaVu Serif', serif" font-size="45" stroke="#000" stroke-width="0.9">. </tspan><tspan x="256.8" y="0.0" font-family="'DejaVu Serif Condensed', 'DejaVu Serif', serif" font-size="45" stroke="#000" stroke-width="0.9">unit</tspan><tspan x="334.1" y="5.0" font-family="'DejaVu Serif Condensed', 'DejaVu Serif', serif" font-size="54" stroke="#000" stroke-width="0.3">)</tspan></text><text fill="#70ad47"><tspan x="562.7" y="192.5" font-family="'DejaVu Serif', serif" font-size="43" font-style="italic" fill="#70ad47" stroke="#70ad47" stroke-width="0.6">t</tspan><tspan x="581.7" y="201.8" font-family="'DejaVu Serif', serif" font-size="33" fill="#70ad47" stroke="#70ad47" stroke-width="0.8">Ta </tspan><tspan x="634.3" y="193.5" font-family="'DejaVu Serif', serif" font-size="46" fill="#70ad47">= </tspan><tspan x="679.5" y="192.5" font-family="'DejaVu Serif Condensed', 'DejaVu Serif', serif" font-size="45" fill="#70ad47" stroke="#70ad47" stroke-width="0.9">5 </tspan><tspan x="716.0" y="192.5" font-family="'DejaVu Serif Condensed', 'DejaVu Serif', serif" font-size="45" fill="#70ad47" stroke="#70ad47" stroke-width="0.9">nm</tspan></text><text fill="#1767dc"><tspan x="562.7" y="308.6" font-family="'DejaVu Serif', serif" font-size="43" font-style="italic" fill="#1767dc" stroke="#1767dc" stroke-width="0.6">t</tspan><tspan x="581.7" y="317.9" font-family="'DejaVu Serif', serif" font-size="33" fill="#1767dc" stroke="#1767dc" stroke-width="0.8">Ta </tspan><tspan x="634.3" y="309.6" font-family="'DejaVu Serif', serif" font-size="46" fill="#1767dc">= </tspan><tspan x="681.5" y="308.6" font-family="'DejaVu Serif Condensed', 'DejaVu Serif', serif" font-size="45" fill="#1767dc" stroke="#1767dc" stroke-width="0.9">4 </tspan><tspan x="716.0" y="308.6" font-family="'DejaVu Serif Condensed', 'DejaVu Serif', serif" font-size="45" fill="#1767dc" stroke="#1767dc" stroke-width="0.9">nm</tspan></text><text fill="#f33d40"><tspan x="562.7" y="414.6" font-family="'DejaVu Serif', serif" font-size="43" font-style="italic" fill="#f33d40" stroke="#f33d40" stroke-width="0.6">t</tspan><tspan x="581.7" y="423.9" font-family="'DejaVu Serif', serif" font-size="33" fill="#f33d40" stroke="#f33d40" stroke-width="0.8">Ta </tspan><tspan x="634.3" y="415.6" font-family="'DejaVu Serif', serif" font-size="46" fill="#f33d40">= </tspan><tspan x="679.5" y="414.6" font-family="'DejaVu Serif Condensed', 'DejaVu Serif', serif" font-size="45" fill="#f33d40" stroke="#f33d40" stroke-width="0.9">3 </tspan><tspan x="716.0" y="414.6" font-family="'DejaVu Serif Condensed', 'DejaVu Serif', serif" font-size="45" fill="#f33d40" stroke="#f33d40" stroke-width="0.9">nm</tspan></text><text fill="#505050"><tspan x="562.7" y="528.0" font-family="'DejaVu Serif', serif" font-size="43" font-style="italic" fill="#505050" stroke="#505050" stroke-width="0.6">t</tspan><tspan x="581.7" y="537.3" font-family="'DejaVu Serif', serif" font-size="33" fill="#505050" stroke="#505050" stroke-width="0.8">Ta </tspan><tspan x="634.3" y="529.0" font-family="'DejaVu Serif', serif" font-size="46" fill="#505050">= </tspan><tspan x="679.5" y="528.0" font-family="'DejaVu Serif Condensed', 'DejaVu Serif', serif" font-size="45" fill="#505050" stroke="#505050" stroke-width="0.9">2 </tspan><tspan x="716.0" y="528.0" font-family="'DejaVu Serif Condensed', 'DejaVu Serif', serif" font-size="45" fill="#505050" stroke="#505050" stroke-width="0.9">nm</tspan></text><text x="54.6" y="892.7" font-family="'Liberation Serif', serif" font-size="51" stroke="#000" stroke-width="1.0">(b)</text><text x="33.8" y="1608.2" font-family="'Liberation Serif', serif" font-size="50">0.00</text><text x="34.8" y="1479.3" font-family="'Liberation Serif', serif" font-size="50">0.02</text><text x="32.8" y="1350.4" font-family="'Liberation Serif', serif" font-size="50">0.04</text><text x="33.8" y="1221.6" font-family="'Liberation Serif', serif" font-size="50">0.06</text><text x="33.8" y="1092.7" font-family="'Liberation Serif', serif" font-size="50">0.08</text><text x="33.8" y="963.8" font-family="'Liberation Serif', serif" font-size="50">0.10</text><text x="178.2" y="1652.5" font-family="'Liberation Serif', serif" font-size="48">2</text><text x="362.0" y="1652.5" font-family="'Liberation Serif', serif" font-size="48">3</text><text x="546.2" y="1652.5" font-family="'Liberation Serif', serif" font-size="48">4</text><text x="729.9" y="1652.5" font-family="'Liberation Serif', serif" font-size="48">5</text><text><tspan x="395.6" y="1697.0" font-family="'DejaVu Serif Condensed', 'DejaVu Serif', serif" font-size="46" font-style="italic" stroke="#000" stroke-width="1.1">t</tspan><tspan x="415.4" y="1708.8" font-family="'Liberation Serif', serif" font-size="34">Ta </tspan><tspan x="458.5" y="1696.0" font-family="'Liberation Serif', serif" font-size="50">(nm)</tspan></text><text transform="translate(29.4,1290.7) rotate(-90)"><tspan x="-2.0" y="0.0" font-family="'DejaVu Serif Condensed', 'DejaVu Serif', serif" font-size="48" font-style="italic" stroke="#000" stroke-width="1.0">α</tspan></text>
</svg></body></html>
